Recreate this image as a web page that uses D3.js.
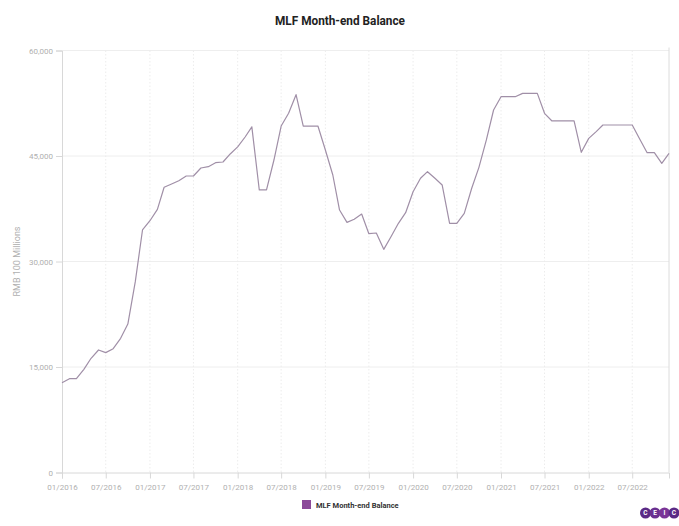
<!DOCTYPE html>
<html>
<head>
<meta charset="utf-8">
<script src="https://cdn.jsdelivr.net/npm/d3@7"></script>
<style>
  html, body { margin: 0; padding: 0; background: #fff; }
  svg { display: block; font-family: Roboto, "Noto Sans", sans-serif; }
</style>
</head>
<body>
<svg id="chart" width="679" height="526"></svg>
<script>
// Monthly MLF balance, RMB 100 millions, 01/2016 .. 12/2022
const startMonth = "2016-01";
const seriesName = "MLF Month-end Balance";
const balance = [
  // 2016
  12770, 13340, 13340, 14670, 16240, 17420, 17040, 17600, 19080, 21110, 27130, 34480,
  // 2017
  35800, 37420, 40550, 41020, 41490, 42160, 42160, 43290, 43480, 44050, 44150, 45290,
  // 2018
  46300, 47700, 49150, 40170, 40170, 44430, 49260, 51070, 53720, 49260, 49260, 49260,
  // 2019
  45850, 42300, 37320, 35570, 36000, 36750, 33950, 34050, 31730, 33530, 35430, 36940,
  // 2020
  39920, 41830, 42770, 41830, 40880, 35430, 35430, 36850, 40410, 43390, 47280, 51540,
  // 2021
  53430, 53430, 53430, 53910, 53910, 53910, 51070, 49980, 49980, 49980, 49980, 45520,
  // 2022
  47510, 48460, 49410, 49410, 49410, 49410, 49410, 47420, 45470, 45470, 43960, 45380
];
const yTicks = [0, 15000, 30000, 45000, 60000];
const xTickLabels = ["01/2016","07/2016","01/2017","07/2017","01/2018","07/2018","01/2019",
                     "07/2019","01/2020","07/2020","01/2021","07/2021","01/2022","07/2022"];

const parseMonth = d3.timeParse("%m/%Y");
const start = d3.timeParse("%Y-%m")(startMonth);
const data = balance.map((v, i) => ({ date: d3.timeMonth.offset(start, i), value: v }));
const xTicks = xTickLabels.map(parseMonth);

const svg = d3.select("#chart");
const margin = { left: 62, right: 10, top: 50.5, bottom: 53.5 };
const W = 679, H = 526;

const x = d3.scaleTime()
  .domain(d3.extent(data, d => d.date))
  .range([margin.left, W - margin.right]);
const y = d3.scaleLinear()
  .domain([0, 60000])
  .range([H - margin.bottom, margin.top]);

// Title
svg.append("text")
  .attr("x", 340).attr("y", 25)
  .attr("text-anchor", "middle")
  .attr("font-size", 12.5).attr("font-weight", 700)
  .attr("fill", "#222")
  .attr("textLength", 130).attr("lengthAdjust", "spacingAndGlyphs")
  .text(seriesName);

// Horizontal grid
svg.append("g")
  .selectAll("line").data(yTicks.filter(t => t > 0)).join("line")
  .attr("x1", margin.left).attr("x2", W - margin.right)
  .attr("y1", d => y(d)).attr("y2", d => y(d))
  .attr("stroke", "#eeeeee").attr("stroke-width", 1);

// Vertical dotted grid
svg.append("g")
  .selectAll("line").data(xTicks.slice(1)).join("line")
  .attr("x1", d => x(d)).attr("x2", d => x(d))
  .attr("y1", margin.top).attr("y2", y(0))
  .attr("stroke", "#ececec").attr("stroke-width", 1)
  .attr("stroke-dasharray", "1.5,2");

// Right frame edge
svg.append("line")
  .attr("x1", W - margin.right).attr("x2", W - margin.right)
  .attr("y1", margin.top - 3).attr("y2", y(0))
  .attr("stroke", "#dcdcdc");

// Y axis
const yAxis = svg.append("g")
  .attr("transform", `translate(${margin.left},0)`)
  .call(d3.axisLeft(y).tickValues(yTicks).tickSize(6).tickPadding(3)
    .tickFormat(d3.format(",")));
yAxis.select(".domain").attr("stroke", "#d8d8d8");
yAxis.selectAll(".tick line").attr("stroke", "#d8d8d8");
yAxis.selectAll("text").attr("fill", "#b0b0b0").attr("font-size", 8)
  .attr("font-family", "Roboto, sans-serif");

// X axis
const xAxis = svg.append("g")
  .attr("transform", `translate(0,${y(0)})`)
  .call(d3.axisBottom(x).tickValues(xTicks).tickSize(6).tickPadding(6)
    .tickFormat(d3.timeFormat("%m/%Y")));
xAxis.select(".domain").attr("stroke", "#d8d8d8");
xAxis.selectAll(".tick line").attr("stroke", "#d8d8d8");
xAxis.selectAll("text").attr("fill", "#b0b0b0").attr("font-size", 8)
  .attr("font-family", "Roboto, sans-serif");

// Y axis title
svg.append("text")
  .attr("transform", `translate(20,${(margin.top + y(0)) / 2}) rotate(-90)`)
  .attr("text-anchor", "middle")
  .attr("font-size", 9).attr("fill", "#b0b0b0")
  .text("RMB 100 Millions");

// Series line
svg.append("path")
  .datum(data)
  .attr("fill", "none")
  .attr("stroke", "#a08fa7")
  .attr("stroke-width", 1.2)
  .attr("stroke-linejoin", "round")
  .attr("d", d3.line().x(d => x(d.date)).y(d => y(d.value)));

// Legend
const lg = svg.append("g").attr("transform", "translate(302,500)");
lg.append("rect").attr("width", 9).attr("height", 9).attr("fill", "#8c4a9a");
lg.append("text").attr("x", 14).attr("y", 7.5)
  .attr("font-size", 7.5).attr("font-weight", 700).attr("fill", "#333")
  .text(seriesName);

// Brand mark
const logo = svg.append("g").attr("transform", "translate(640,513)");
const letters = ["C", "E", "I", "C"];
logo.selectAll("circle").data(letters).join("circle")
  .attr("cx", (d, i) => 5.5 + i * 9.5).attr("cy", 0).attr("r", 5.5)
  .attr("fill", (d, i) => ["#5b2a86", "#6a3090", "#7a3597", "#5b2a86"][i]);
logo.selectAll("text").data(letters).join("text")
  .attr("x", (d, i) => 5.5 + i * 9.5).attr("y", 2.3)
  .attr("text-anchor", "middle").attr("font-size", 6.5).attr("font-weight", 700)
  .attr("fill", "#fff").text(d => d);
</script>
</body>
</html>
